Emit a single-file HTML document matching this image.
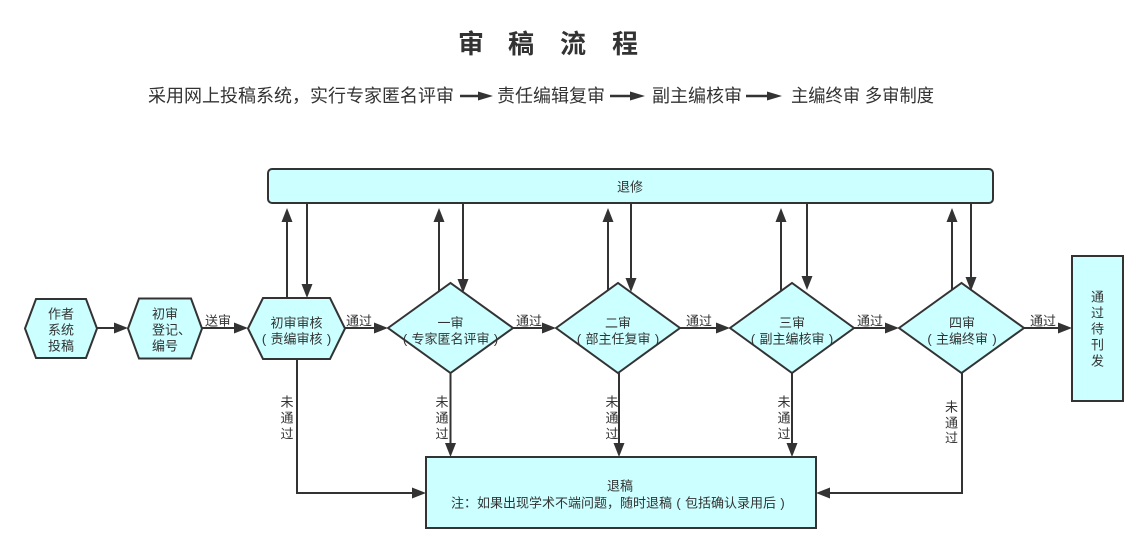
<!DOCTYPE html>
<html>
<head>
<meta charset="utf-8">
<style>
html,body{margin:0;padding:0;background:#fff;}
svg{display:block;}
text{font-family:"Liberation Sans","Noto Sans CJK SC",sans-serif;fill:#333;}
</style>
</head>
<body>
<svg width="1147" height="553" viewBox="0 0 1147 553" xmlns="http://www.w3.org/2000/svg">
  <!-- Title -->
  <g font-size="26" font-weight="bold">
    <text x="458" y="44" dominant-baseline="central">审</text>
    <text x="508" y="44" dominant-baseline="central">稿</text>
    <text x="560" y="44" dominant-baseline="central">流</text>
    <text x="612" y="44" dominant-baseline="central">程</text>
  </g>

  <!-- Subtitle -->
  <g font-size="18">
    <text x="148" y="96" dominant-baseline="central" textLength="306" lengthAdjust="spacingAndGlyphs">采用网上投稿系统，实行专家匿名评审</text>
    <text x="497" y="96" dominant-baseline="central" textLength="108" lengthAdjust="spacingAndGlyphs">责任编辑复审</text>
    <text x="652" y="96" dominant-baseline="central" textLength="90" lengthAdjust="spacingAndGlyphs">副主编核审</text>
    <text x="791" y="96" dominant-baseline="central" textLength="143" lengthAdjust="spacingAndGlyphs">主编终审 多审制度</text>
  </g>
  <g stroke="#333" stroke-width="2.5">
    <line x1="460" y1="96" x2="479" y2="96"/>
    <line x1="610" y1="96" x2="631" y2="96"/>
    <line x1="746" y1="96" x2="768" y2="96"/>
  </g>
  <g fill="#333">
    <polygon points="478,91.5 493,96 478,100.5"/>
    <polygon points="630,91.5 645,96 630,100.5"/>
    <polygon points="767,91.5 782,96 767,100.5"/>
  </g>

  <!-- Shapes -->
  <g fill="#CCFFFF" stroke="#333" stroke-width="2">
    <rect x="268" y="169" width="725" height="34" rx="4"/>
    <polygon points="25,328.5 36,299 86,299 97,328.5 86,358 36,358"/>
    <polygon points="128,328.5 139,298.5 191,298.5 202,328.5 191,358.5 139,358.5"/>
    <polygon points="248,328.5 263,298 330,298 345,328.5 330,359 263,359"/>
    <polygon points="388,328 450.5,283 513,328 450.5,373"/>
    <polygon points="556,328 618,283 680,328 618,373"/>
    <polygon points="730,328 792,283 854,328 792,373"/>
    <polygon points="899,328 961.5,283 1024,328 961.5,373"/>
    <rect x="1072" y="256" width="51" height="145"/>
    <rect x="426" y="457" width="390" height="71"/>
  </g>

  <!-- Connectors -->
  <g stroke="#333" stroke-width="2" fill="none">
    <path d="M97 328 H115"/>
    <path d="M202 328 H235"/>
    <path d="M345 328 H375"/>
    <path d="M513 328 H543"/>
    <path d="M680 328 H717"/>
    <path d="M854 328 H886"/>
    <path d="M1024 328 H1059"/>

    <path d="M287 298 V221"/>
    <path d="M439 291 V221"/>
    <path d="M608 290 V221"/>
    <path d="M781 291 V221"/>
    <path d="M952 290 V221"/>

    <path d="M307 203 V285"/>
    <path d="M463 203 V280"/>
    <path d="M631 203 V279"/>
    <path d="M807 203 V277"/>
    <path d="M971 203 V278"/>

    <path d="M297 359 V493 H413"/>
    <path d="M450.5 373 V444"/>
    <path d="M619 373 V444"/>
    <path d="M792 373 V444"/>
    <path d="M962 373 V493 H829"/>
  </g>
  <g fill="#333">
    <polygon points="114,322.5 128,328 114,333.5"/>
    <polygon points="234,322.5 248,328 234,333.5"/>
    <polygon points="374,322.5 388,328 374,333.5"/>
    <polygon points="542,322.5 556,328 542,333.5"/>
    <polygon points="716,322.5 730,328 716,333.5"/>
    <polygon points="885,322.5 899,328 885,333.5"/>
    <polygon points="1058,322.5 1072,328 1058,333.5"/>

    <polygon points="281.5,222 287,208 292.5,222"/>
    <polygon points="433.5,222 439,208 444.5,222"/>
    <polygon points="602.5,222 608,208 613.5,222"/>
    <polygon points="775.5,222 781,208 786.5,222"/>
    <polygon points="946.5,222 952,208 957.5,222"/>

    <polygon points="301.5,284 307,298 312.5,284"/>
    <polygon points="457.5,279 463,293 468.5,279"/>
    <polygon points="625.5,278 631,292 636.5,278"/>
    <polygon points="801.5,276 807,290 812.5,276"/>
    <polygon points="965.5,277 971,291 976.5,277"/>

    <polygon points="412,487.5 426,493 412,498.5"/>
    <polygon points="445,443 450.5,457 456,443"/>
    <polygon points="613.5,443 619,457 624.5,443"/>
    <polygon points="786.5,443 792,457 797.5,443"/>
    <polygon points="830,487.5 816,493 830,498.5"/>
  </g>

  <!-- Node text -->
  <g font-size="13" text-anchor="middle" dominant-baseline="central">
    <text x="630" y="187">退修</text>

    <text x="61" y="314">作者</text>
    <text x="61" y="330">系统</text>
    <text x="61" y="346">投稿</text>

    <text x="296.5" y="323">初审审核</text>
    <text x="264 277 290 303 316 329" y="339">(责编审核)</text>

    <text x="450.5" y="323">一审</text>
    <text x="405 418 431 444 457 470 483 496" y="339">(专家匿名评审)</text>

    <text x="618" y="323">二审</text>
    <text x="579 592 605 618 631 644 657" y="339">(部主任复审)</text>

    <text x="792" y="323">三审</text>
    <text x="753 766 779 792 805 818 831" y="339">(副主编核审)</text>

    <text x="962" y="323">四审</text>
    <text x="929.5 942.5 955.5 968.5 981.5 994.5" y="339">(主编终审)</text>

    <text x="1097.5" y="297">通</text>
    <text x="1097.5" y="313">过</text>
    <text x="1097.5" y="329">待</text>
    <text x="1097.5" y="345">刊</text>
    <text x="1097.5" y="361">发</text>

    <text x="620" y="486">退稿</text>
    <text x="457.5 470.5 483.5 496.5 509.5 522.5 535.5 548.5 561.5 574.5 587.5 600.5 613.5 626.5 639.5 652.5 665.5 678.5 691.5 704.5 717.5 730.5 743.5 756.5 769.5 782.5" y="503">注：如果出现学术不端问题，随时退稿(包括确认录用后)</text>

    <!-- 未通过 labels -->
    <text x="287" y="402">未</text>
    <text x="287" y="418">通</text>
    <text x="287" y="434">过</text>

    <text x="442" y="402">未</text>
    <text x="442" y="418">通</text>
    <text x="442" y="434">过</text>

    <text x="612" y="402">未</text>
    <text x="612" y="418">通</text>
    <text x="612" y="434">过</text>

    <text x="784" y="402">未</text>
    <text x="784" y="418">通</text>
    <text x="784" y="434">过</text>

    <text x="951.5" y="407">未</text>
    <text x="951.5" y="423">通</text>
    <text x="951.5" y="438">过</text>
  </g>
  <g font-size="13" dominant-baseline="central">
    <text x="152" y="314">初审</text>
    <text x="152" y="330">登记、</text>
    <text x="152" y="346">编号</text>

    <text x="205" y="321">送审</text>
    <text x="346" y="321">通过</text>
    <text x="516" y="321">通过</text>
    <text x="686" y="321">通过</text>
    <text x="857" y="321">通过</text>
    <text x="1030" y="321">通过</text>
  </g>
</svg>
</body>
</html>
